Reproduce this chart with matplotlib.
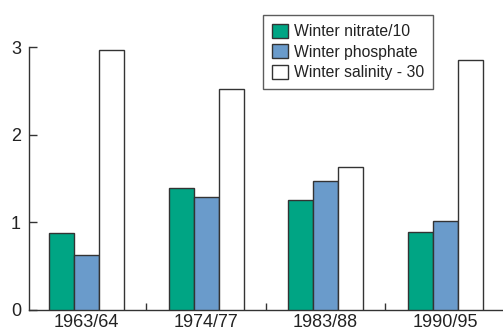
import matplotlib
matplotlib.use("Agg")
import matplotlib.pyplot as plt
import numpy as np
from matplotlib.ticker import FixedLocator

plt.rcParams['font.family'] = ['Liberation Sans', 'DejaVu Sans']

periods = ["1963/64", "1974/77", "1983/88", "1990/95"]
nitrate = [0.88, 1.39, 1.25, 0.89]
phosphate = [0.63, 1.29, 1.47, 1.01]
salinity = [2.97, 2.52, 1.63, 2.85]
series_labels = ["Winter nitrate/10", "Winter phosphate", "Winter salinity - 30"]
colors = ["#00a584", "#6a9bcb", "#ffffff"]
yticks = [0, 1, 2, 3]

W, H = 503, 331
fig = plt.figure(figsize=(W / 100, H / 100), dpi=100)
ax = fig.add_axes([29.3 / W, 1 - 310 / H, (W - 29.3) / W, (310 - 47) / H])

x = np.arange(len(periods))
bw = 0.209
edge = "#333333"
for i, (vals, c, lab) in enumerate(zip([nitrate, phosphate, salinity], colors, series_labels)):
    ax.bar(x + (i - 1) * bw, vals, bw, color=c, edgecolor=edge, linewidth=1.0, label=lab, zorder=3)

ax.set_xlim(-0.479, 3.485)
ax.set_ylim(0, 3)
for s in ["top", "right"]:
    ax.spines[s].set_visible(False)
for s in ["left", "bottom"]:
    ax.spines[s].set_color(edge)
    ax.spines[s].set_linewidth(1.0)

ax.set_yticks(yticks)
ax.set_yticklabels([str(v) for v in yticks])
ax.tick_params(axis='y', direction='in', length=6, width=1.0, color=edge, pad=6,
               labelsize=13, labelcolor="#222222")
ax.set_xticks(x)
ax.set_xticklabels(periods)
ax.tick_params(axis='x', which='major', length=0, pad=3, labelsize=13, labelcolor="#222222")
ax.xaxis.set_minor_locator(FixedLocator([0.5, 1.5, 2.5]))
ax.tick_params(axis='x', which='minor', direction='in', length=5, width=1.0, color=edge)

leg = fig.legend(loc='upper left', bbox_to_anchor=(263 / W, 1 - 15 / H),
                 bbox_transform=fig.transFigure, borderaxespad=0,
                 fontsize=11.3, frameon=True, fancybox=False, edgecolor=edge,
                 handlelength=1.06, handleheight=1.0, handletextpad=0.36,
                 borderpad=0.55, labelspacing=0.33)
leg.get_frame().set_linewidth(1.0)
for t in leg.get_texts():
    t.set_color("#222222")

fig.savefig("out.png", dpi=100)
